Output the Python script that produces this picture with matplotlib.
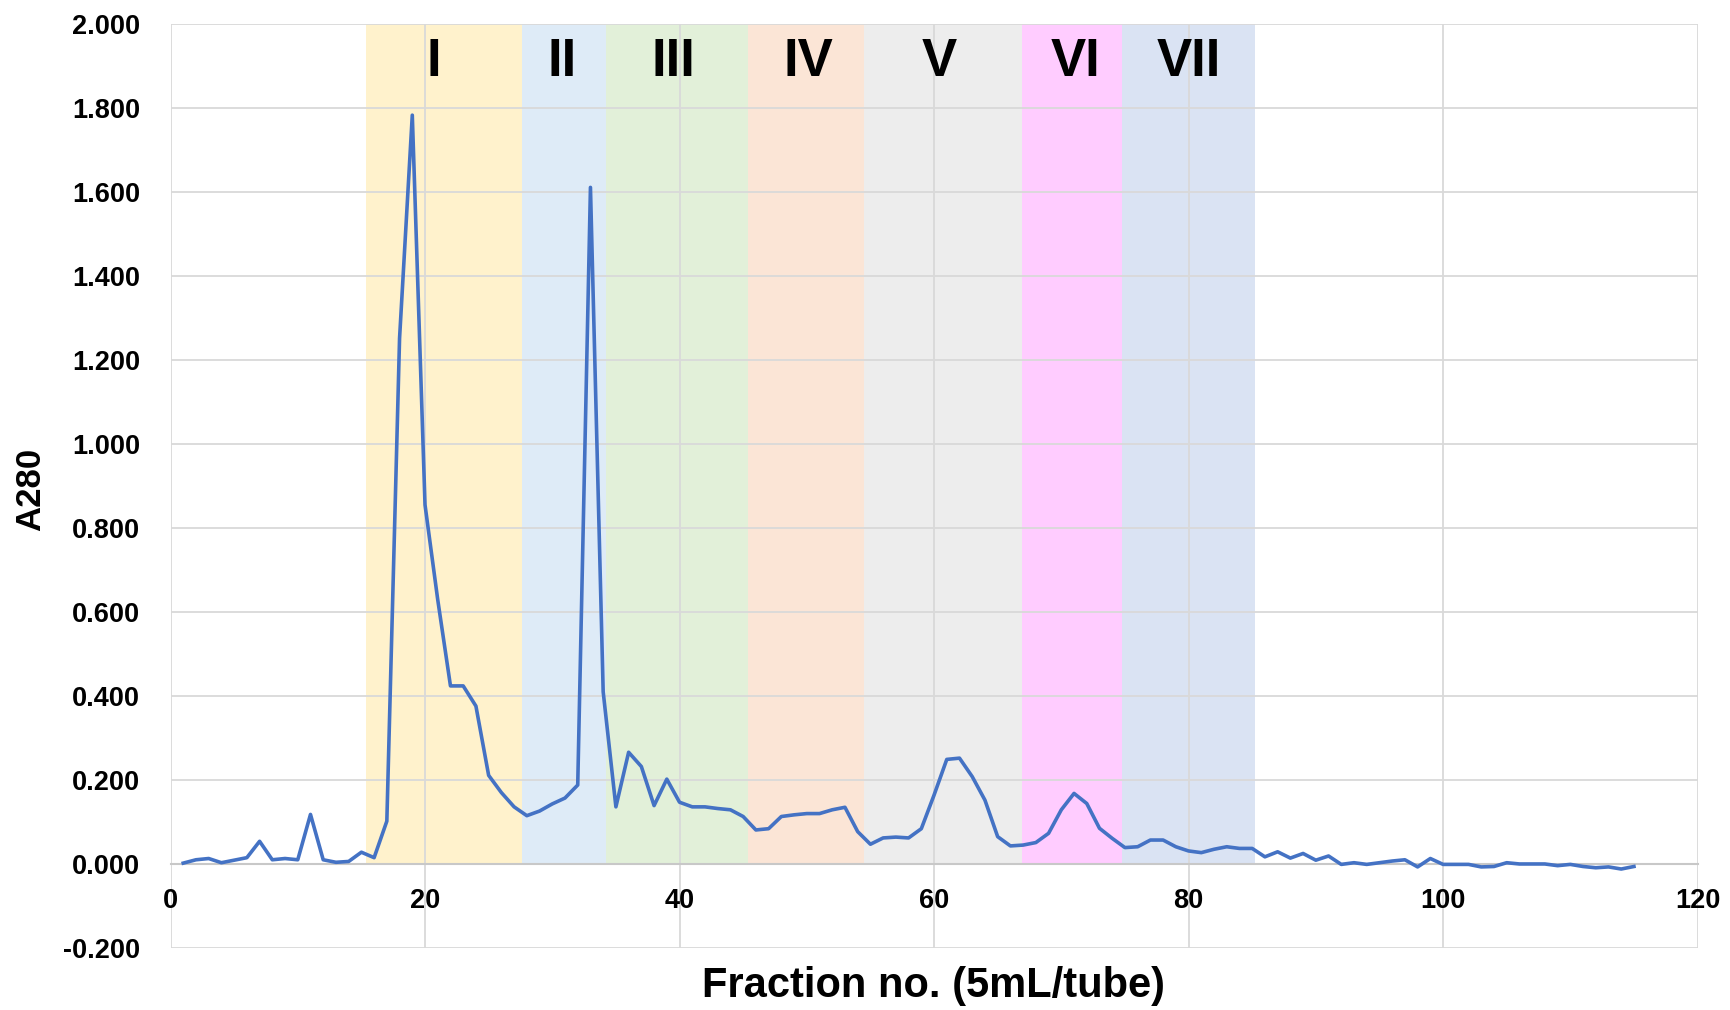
# Gel filtration elution profile (A280) with the pooled fractions shaded
import numpy as np
import matplotlib.pyplot as plt

plt.rcParams['font.family'] = ['Liberation Sans', 'DejaVu Sans']

# A280 readings for tubes 1..115
fraction = np.arange(1, 116)
a280 = [
    0.003, 0.011, 0.014, 0.004, 0.010, 0.016, 0.055, 0.011, 0.014, 0.011,
    0.119, 0.011, 0.005, 0.007, 0.029, 0.016, 0.103, 1.253, 1.784, 0.856,
    0.630, 0.425, 0.425, 0.377, 0.212, 0.171, 0.137, 0.116, 0.127, 0.144,
    0.158, 0.189, 1.612, 0.411, 0.137, 0.267, 0.233, 0.140, 0.203, 0.148,
    0.137, 0.137, 0.133, 0.130, 0.114, 0.082, 0.085, 0.114, 0.118, 0.121,
    0.121, 0.130, 0.136, 0.078, 0.048, 0.063, 0.065, 0.063, 0.085, 0.165,
    0.250, 0.253, 0.209, 0.153, 0.066, 0.044, 0.046, 0.052, 0.074, 0.130,
    0.169, 0.145, 0.086, 0.062, 0.040, 0.042, 0.058, 0.058, 0.042, 0.032,
    0.028, 0.036, 0.042, 0.038, 0.038, 0.018, 0.030, 0.015, 0.026, 0.010,
    0.020, 0.000, 0.004, 0.000, 0.004, 0.008, 0.011, -0.006, 0.014, 0.000,
    0.000, 0.000, -0.006, -0.005, 0.004, 0.001, 0.001, 0.001, -0.003, 0.000,
    -0.005, -0.008, -0.006, -0.011, -0.005,
]

# pooled peaks
peak_names = ['I', 'II', 'III', 'IV', 'V', 'VI', 'VII']
peak_start = [15.4, 27.6, 34.2, 45.4, 54.5, 66.9, 74.8]
peak_end = [27.6, 34.2, 45.4, 54.5, 66.9, 74.8, 85.2]
peak_label_x = [20.7, 30.8, 39.5, 50.1, 60.4, 71.1, 80.0]
peak_colors = ['#FFF2CC', '#DEEBF7', '#E2F0D9', '#FBE5D6', '#EDEDED', '#FFCCFF', '#DAE3F3']

fig = plt.figure(figsize=(17.31, 10.10), dpi=100)
ax = fig.add_axes([0.0985, 0.061, 0.8822, 0.9148])

starts = np.array(peak_start)
widths = np.array(peak_end) - starts
ax.bar(starts, 2.0, width=widths, bottom=0, align='edge',
       color=peak_colors, edgecolor='none', zorder=0)

for name, x in zip(peak_names, peak_label_x):
    ax.text(x, 1.91, name, ha='center', va='center', fontsize=38,
            fontweight='bold', color='black', zorder=3)

ax.plot(fraction, a280, color='#4472C4', linewidth=2.6, zorder=4)

ax.set_xlim(0, 120)
ax.set_ylim(-0.2, 2.0)
ax.set_xticks(np.arange(0, 121, 20))
ax.set_yticks(np.arange(-0.2, 2.001, 0.2))
ax.yaxis.set_major_formatter(plt.FormatStrFormatter('%.3f'))
ax.grid(True, color='#D9D9D9', linewidth=1.3, zorder=1)
ax.set_axisbelow(True)

for side in ['top', 'right', 'left']:
    ax.spines[side].set_visible(False)
# category axis crosses at zero
ax.spines['bottom'].set_position(('data', 0))
ax.spines['bottom'].set_color('#C8C8C8')
ax.spines['bottom'].set_linewidth(1.5)
ax.spines['bottom'].set_zorder(2)

ax.tick_params(axis='both', length=0, labelsize=19.5)
ax.tick_params(axis='x', pad=17)
ax.tick_params(axis='y', pad=22)
for lbl in ax.get_xticklabels() + ax.get_yticklabels():
    lbl.set_fontweight('bold')

fig.text(30.5 / 1731, 1 - 489.5 / 1010, 'A280', rotation=90, ha='center', va='center',
         fontsize=25, fontweight='bold')
fig.text(933.5 / 1731, 1 - 986 / 1010, 'Fraction no. (5mL/tube)', ha='center', va='center',
         fontsize=30, fontweight='bold')

fig.savefig('out.png', dpi=100)
